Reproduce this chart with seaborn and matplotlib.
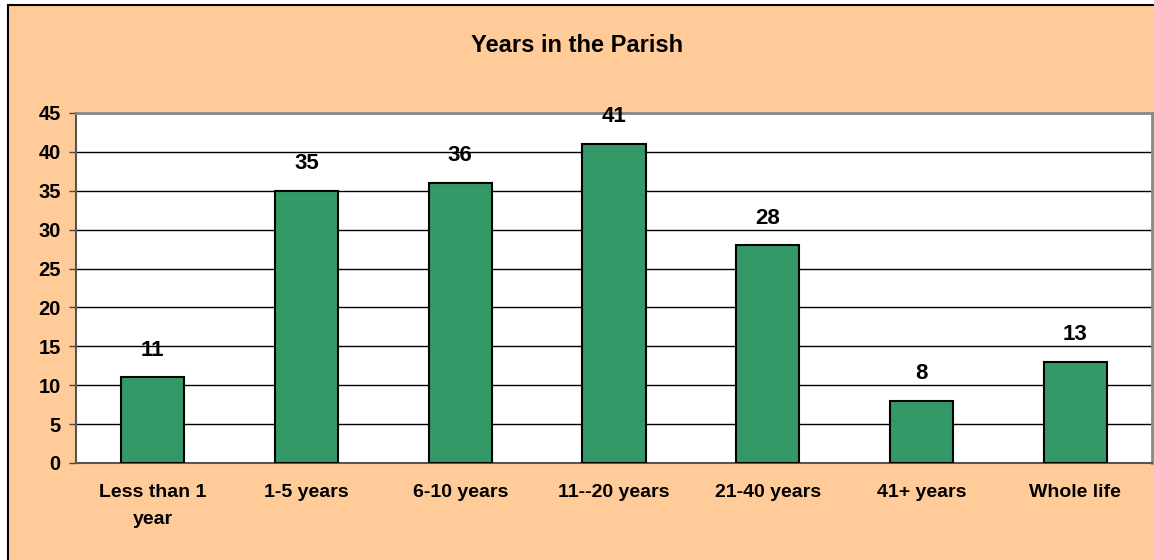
import matplotlib
matplotlib.use("Agg")
import matplotlib.pyplot as plt
from matplotlib.patches import Rectangle
import seaborn as sns
import pandas as pd

categories = ["Less than 1\nyear", "1-5 years", "6-10 years", "11--20 years",
              "21-40 years", "41+ years", "Whole life"]
counts = [11, 35, 36, 41, 28, 8, 13]
y_ticks = [0, 5, 10, 15, 20, 25, 30, 35, 40, 45]

df = pd.DataFrame({"category": categories, "count": counts})

sns.set_theme(style="white")
plt.rcParams["font.family"] = ["Liberation Sans", "DejaVu Sans"]
plt.rcParams["text.color"] = "black"
plt.rcParams["xtick.color"] = "black"
plt.rcParams["ytick.color"] = "black"

fig = plt.figure(figsize=(11.54, 5.6), dpi=100, facecolor="white")
fig.patches.append(Rectangle((8 / 1154, -0.02), 1.02, 1 - 5 / 560 + 0.02,
                             transform=fig.transFigure, facecolor="#FFCC99",
                             edgecolor="black", linewidth=1.5, zorder=-1))
ax = fig.add_axes([76 / 1154, 97 / 560, 1076 / 1154, 350 / 560])
ax.set_facecolor("white")

sns.barplot(data=df, x="category", y="count", color="#339966", saturation=1,
            width=0.41, edgecolor="black", linewidth=1.5, ax=ax, zorder=3)

for i, v in enumerate(counts):
    ax.annotate(str(v), (i, v), xytext=(0, 12), textcoords="offset points",
                ha="center", va="bottom", fontsize=16, fontweight="bold",
                color="black", annotation_clip=False)

ax.set_ylim(0, 45)
ax.set_xlim(-0.5, len(categories) - 0.5)
ax.set_yticks(y_ticks)
ax.set_yticklabels([str(t) for t in y_ticks], fontsize=14.5, fontweight="bold")
ax.set_xticks(range(len(categories)))
ax.set_xticklabels(categories, fontsize=14, fontweight="bold", linespacing=1.8)
ax.set_xticks([i - 0.5 for i in range(len(categories) + 1)], minor=True)
ax.tick_params(axis="x", which="major", length=0, pad=15, labelcolor="black")
ax.tick_params(axis="x", which="minor", length=5, width=1, color="#444444", direction="out")
ax.tick_params(axis="y", length=5, width=1, color="#444444", direction="out", pad=6,
               left=True, labelcolor="black")
ax.yaxis.grid(True, color="black", linewidth=1)
ax.set_axisbelow(True)
ax.set_xlabel("")
ax.set_ylabel("")

for side in ["top", "right"]:
    ax.spines[side].set_color("#888888")
    ax.spines[side].set_linewidth(2)
for side in ["left", "bottom"]:
    ax.spines[side].set_color("#555555")
    ax.spines[side].set_linewidth(1.5)

fig.text(0.5, 1 - 45 / 560, "Years in the Parish", ha="center", va="center",
         fontsize=17, fontweight="bold", color="black")

fig.savefig("out.png", dpi=100, facecolor=fig.get_facecolor())
